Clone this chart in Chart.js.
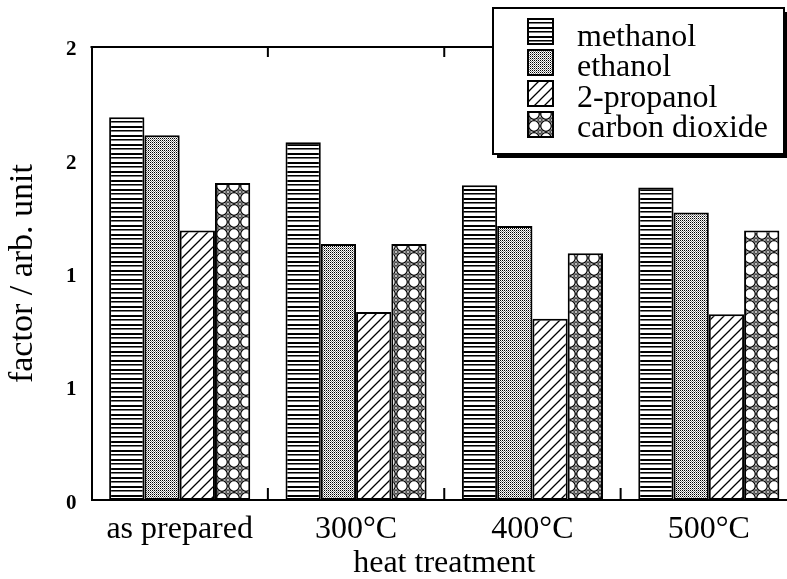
<!DOCTYPE html>
<html><head><meta charset="utf-8">
<script src="https://cdn.jsdelivr.net/npm/chart.js@4"></script>
<style>html,body{margin:0;padding:0;background:#fff;overflow:hidden;} #wrap{width:800px;height:579px;}</style>
</head><body><div id="wrap"><canvas id="c" width="800" height="579"></canvas></div>
<script>
const categories = ['as prepared', '300°C', '400°C', '500°C'];
const seriesNames = ['methanol', 'ethanol', '2-propanol', 'carbon dioxide'];
const methanol = [1.69, 1.58, 1.39, 1.38];
const ethanol = [1.61, 1.13, 1.21, 1.27];
const propanol = [1.19, 0.83, 0.80, 0.82];
const carbonDioxide = [1.40, 1.13, 1.09, 1.19];
const yTickLabels = ['0', '1', '1', '2', '2'];
const xTitle = 'heat treatment';
const yTitle = 'factor / arb. unit';

const FONT = '"Liberation Serif", "Times New Roman", serif';

function makePattern(w, h, draw) {
  const c = document.createElement('canvas');
  c.width = w; c.height = h;
  const g = c.getContext('2d');
  g.fillStyle = '#fff'; g.fillRect(0, 0, w, h);
  draw(g, w, h);
  return g.createPattern(c, 'repeat');
}
const patMethanol = makePattern(4, 9, (g) => {
  g.fillStyle = '#000'; g.fillRect(0, 0, 4, 2); g.fillRect(0, 4, 4, 1);
  g.fillStyle = '#777'; g.fillRect(0, 5, 4, 1);
});
const patEthanol = makePattern(2, 2, (g) => {
  g.fillStyle = '#000'; g.fillRect(0, 0, 1, 1);
  g.fillStyle = '#888'; g.fillRect(1, 1, 1, 1);
});
const patPropanol = makePattern(10, 10, (g) => {
  g.strokeStyle = '#000'; g.lineWidth = 1.3;
  g.beginPath();
  g.moveTo(0, 10); g.lineTo(10, 0);
  g.moveTo(-5, 5); g.lineTo(5, -5);
  g.moveTo(5, 15); g.lineTo(15, 5);
  g.stroke();
});
const patCO2 = makePattern(12, 12, (g) => {
  g.strokeStyle = '#000'; g.lineWidth = 1.3;
  g.beginPath(); g.arc(6, 6, 5.3, 0, Math.PI * 2); g.stroke();
  [[0, 0], [12, 0], [0, 12], [12, 12]].forEach(([cx, cy]) => {
    g.fillStyle = '#000';
    g.beginPath(); g.moveTo(cx, cy - 3); g.lineTo(cx + 3, cy); g.lineTo(cx, cy + 3); g.lineTo(cx - 3, cy); g.closePath(); g.fill();
    g.fillStyle = '#fff';
    g.beginPath(); g.moveTo(cx, cy - 1.8); g.lineTo(cx + 1.8, cy); g.lineTo(cx, cy + 1.8); g.lineTo(cx - 1.8, cy); g.closePath(); g.fill();
    g.fillStyle = '#000'; g.fillRect(cx - 0.5, cy - 0.5, 1, 1);
  });
});

const seriesValues = [methanol, ethanol, propanol, carbonDioxide];
const seriesFills = [patMethanol, patEthanol, patPropanol, patCO2];

const decor = {
  id: 'decor',
  afterDraw(chart) {
    const { ctx, chartArea: a, scales: { x } } = chart;
    ctx.save();
    ctx.strokeStyle = '#000';
    ctx.lineWidth = 2;
    ctx.beginPath(); ctx.moveTo(a.left - 1, a.top); ctx.lineTo(a.right, a.top); ctx.stroke();
    for (let i = 1; i < categories.length; i++) {
      const bx = (x.getPixelForValue(i - 1) + x.getPixelForValue(i)) / 2;
      ctx.beginPath();
      ctx.moveTo(bx, a.bottom); ctx.lineTo(bx, a.bottom - 12);
      ctx.moveTo(bx, a.top); ctx.lineTo(bx, a.top + 10);
      ctx.stroke();
    }
    // legend box
    const lx = 493, ly = 8, lw = 291, lh = 146;
    ctx.fillStyle = '#000'; ctx.fillRect(lx + 4, ly + 4, lw, lh);
    ctx.fillStyle = '#fff'; ctx.fillRect(lx, ly, lw, lh);
    ctx.lineWidth = 2; ctx.strokeRect(lx, ly, lw, lh);
    chart.data.datasets.forEach((ds, i) => {
      const sy = 19 + 31 * i;
      ctx.fillStyle = ds.backgroundColor;
      ctx.fillRect(528, sy, 25, 25);
      ctx.lineWidth = 2; ctx.strokeRect(528, sy, 25, 25);
      ctx.fillStyle = '#000';
      ctx.font = '32px ' + FONT;
      ctx.textBaseline = 'alphabetic';
      ctx.textAlign = 'left';
      ctx.fillText(ds.label, 577, 46 + 30.3 * i);
    });
    ctx.restore();
  }
};

new Chart(document.getElementById('c'), {
  type: 'bar',
  data: {
    labels: categories,
    datasets: seriesNames.map((name, i) => ({
      label: name,
      data: seriesValues[i],
      backgroundColor: seriesFills[i],
      borderColor: '#000',
      borderWidth: 2,
      borderSkipped: false,
      categoryPercentage: 0.8,
      barPercentage: 1.0
    }))
  },
  options: {
    responsive: false,
    animation: false,
    layout: { padding: { left: 6, top: 47, right: 3, bottom: 0 } },
    plugins: { legend: { display: false }, tooltip: { enabled: false } },
    scales: {
      x: {
        grid: { display: false, drawTicks: false },
        border: { display: true, color: '#000', width: 2 },
        ticks: { color: '#000', font: { family: FONT, size: 32, lineHeight: 1.59 }, padding: 4 },
        title: { display: true, text: xTitle, color: '#000', font: { family: FONT, size: 32, lineHeight: 0.3125 }, padding: { top: 0, bottom: 10 } }
      },
      y: {
        min: 0, max: 2,
        grid: { display: false, drawTicks: false },
        border: { display: true, color: '#000', width: 2 },
        ticks: { stepSize: 0.5, callback: (v, i) => yTickLabels[i], color: '#000', font: { family: FONT, size: 21, weight: 'bold' }, padding: 15, labelOffset: 3 },
        title: { display: true, text: yTitle, color: '#000', font: { family: FONT, size: 34, lineHeight: 1 }, padding: { top: 0, bottom: 11 } }
      }
    }
  },
  plugins: [decor]
});
</script>
</body></html>
